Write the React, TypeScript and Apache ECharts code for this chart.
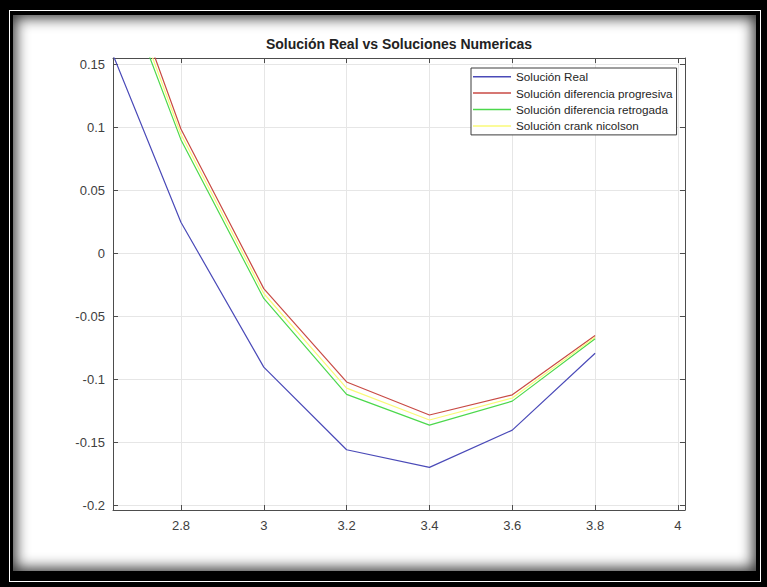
import React, { useEffect, useRef } from "react";
import * as echarts from "echarts";

const xValues = [2.6, 2.8, 3.0, 3.2, 3.4, 3.6, 3.8];
const solReal = [0.187, 0.025, -0.09, -0.1556, -0.1696, -0.14, -0.079];
const solProgresiva = [0.28, 0.099, -0.0277, -0.1018, -0.128, -0.112, -0.065];
const solRetrogada = [0.264, 0.0905, -0.0355, -0.1116, -0.136, -0.117, -0.0675];
const solCrank = [0.272, 0.0948, -0.0316, -0.1067, -0.132, -0.1145, -0.0662];

const seriesNames = [
  "Solución Real",
  "Solución diferencia progresiva",
  "Solución diferencia retrogada",
  "Solución crank nicolson",
];
const titleText = "Solución Real vs Soluciones Numericas";

const FONT = "'Liberation Sans', Arial, Helvetica, sans-serif";

export default function App() {
  const ref = useRef<HTMLDivElement>(null);
  useEffect(() => {
    if (!ref.current) return;
    const chart = echarts.init(ref.current, undefined, { renderer: "svg" });
    const axisColor = "#4d4d4d";
    const gridColor = "#e6e6e6";
    const isNice = (v: number, step: number) =>
      Math.abs(v / step - Math.round(v / step)) < 1e-6;
    const mk = (ys: number[]) => xValues.map((x, i) => [x, ys[i]]);
    const colors = ["#4a4ab8", "#c84a44", "#4cd84c", "#fafa78"];
    const allData = [solReal, solProgresiva, solRetrogada, solCrank];
    const xMin = 2.636, xMax = 4.017, yMin = -0.2034, yMax = 0.1553;
    const tickCommon = { inside: true, length: 5, lineStyle: { color: axisColor, width: 1 } };
    chart.setOption({
      animation: false,
      grid: { left: 113, top: 58, width: 572, height: 452, outerBoundsMode: "none", containLabel: false },
      graphic: [
        {
          type: "text",
          x: 399,
          y: 44,
          style: {
            text: titleText,
            fontFamily: FONT,
            fontSize: 14,
            fontWeight: "bold",
            fill: "#222222",
            textAlign: "center",
            textVerticalAlign: "middle",
          },
        },
      ],
      legend: {
        orient: "vertical",
        left: 471,
        top: 68,
        padding: [1.7, 4, 2, 2],
        itemGap: 2.4,
        itemWidth: 38,
        itemHeight: 1.5,
        icon: "rect",
        backgroundColor: "#ffffff",
        borderColor: "#3c3c3c",
        borderWidth: 1,
        borderRadius: 0,
        data: seriesNames,
        textStyle: { fontFamily: FONT, fontSize: 11.7, color: "#262626", lineHeight: 14 },
      },
      xAxis: [
        {
          type: "value",
          min: xMin,
          max: xMax,
          splitNumber: 7,
          position: "bottom",
          axisLine: { show: true, onZero: false, lineStyle: { color: axisColor, width: 1 } },
          axisTick: tickCommon,
          axisLabel: {
            fontFamily: FONT,
            fontSize: 13,
            color: "#404040",
            margin: 9,
            formatter: (v: number) => (isNice(v, 0.2) ? String(Math.round(v * 10) / 10) : ""),
          },
          splitLine: { show: true, lineStyle: { color: gridColor, width: 1 } },
        },
        {
          type: "value",
          min: xMin,
          max: xMax,
          splitNumber: 7,
          position: "top",
          axisLine: { show: true, onZero: false, lineStyle: { color: axisColor, width: 1 } },
          axisTick: tickCommon,
          axisLabel: { show: false },
          splitLine: { show: false },
        },
      ],
      yAxis: [
        {
          type: "value",
          min: yMin,
          max: yMax,
          splitNumber: 7,
          position: "left",
          axisLine: { show: true, onZero: false, lineStyle: { color: axisColor, width: 1 } },
          axisTick: tickCommon,
          axisLabel: {
            fontFamily: FONT,
            fontSize: 13,
            color: "#404040",
            margin: 8,
            formatter: (v: number) =>
              isNice(v, 0.05) ? String(Math.round(v * 100) / 100) : "",
          },
          splitLine: { show: true, lineStyle: { color: gridColor, width: 1 } },
        },
        {
          type: "value",
          min: yMin,
          max: yMax,
          splitNumber: 7,
          position: "right",
          axisLine: { show: true, onZero: false, lineStyle: { color: axisColor, width: 1 } },
          axisTick: tickCommon,
          axisLabel: { show: false },
          splitLine: { show: false },
        },
      ],
      series: seriesNames.map((name, i) => ({
        name,
        type: "line",
        xAxisIndex: 0,
        yAxisIndex: 0,
        data: mk(allData[i]),
        symbol: "none",
        clip: true,
        color: colors[i],
        lineStyle: { color: colors[i], width: 1.2 },
      })),
    });
    return () => chart.dispose();
  }, []);

  return (
    <div
      style={{
        position: "fixed",
        left: 0,
        top: 0,
        width: 767,
        height: 587,
        background: "#000000",
        overflow: "hidden",
      }}
    >
      <div
        style={{
          position: "absolute",
          left: 9,
          top: 10,
          width: 750,
          height: 570,
          border: "1.5px solid #ffffff",
        }}
      />
      <div
        style={{
          position: "absolute",
          left: 13,
          top: 15,
          width: 743,
          height: 556,
          background: "#ffffff",
          boxShadow: "inset 0 0 14px 3px rgba(0,0,0,0.8)",
        }}
      />
      <div ref={ref} style={{ position: "absolute", left: 0, top: 0, width: 767, height: 587 }} />
    </div>
  );
}
